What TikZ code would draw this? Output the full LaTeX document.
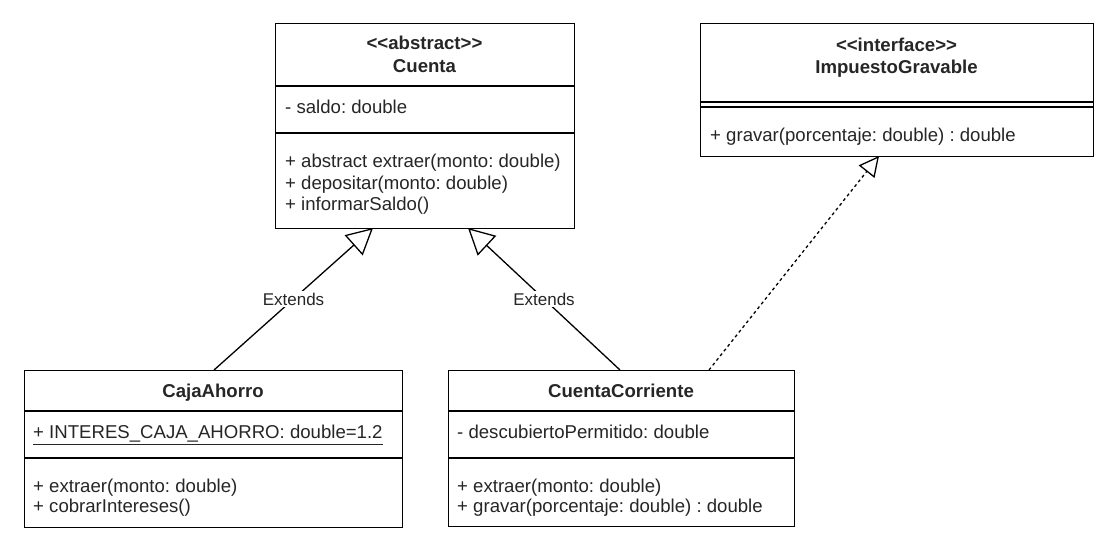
\documentclass[tikz,border=0pt]{standalone}
\usepackage{fontspec}
\setmainfont{Liberation Sans}
\usetikzlibrary{arrows.meta}
\frenchspacing
\newcommand{\gopen}{<\kern0pt<}
\newcommand{\gclose}{>\kern0pt>}
\definecolor{txt}{HTML}{262626}
\begin{document}
\begin{tikzpicture}[x=1pt,y=-1pt,
  box/.style={draw=black, line width=1.3pt, fill=white, anchor=north west, inner sep=0pt},
  sep/.style={draw=black, line width=1.3pt},
  mtxt/.style={anchor=base west, inner sep=0pt, text=txt, font=\fontsize{18.6}{22}\selectfont\frenchspacing},
  ttxt/.style={anchor=base, inner sep=0pt, text=txt, font=\fontsize{18.6}{22}\selectfont\bfseries},
  lbl/.style={fill=white, inner sep=1.5pt, text=txt, font=\fontsize{17}{20}\selectfont},
  gen/.style={draw=black, line width=1.3pt, -{Triangle[open, length=26pt, width=27pt, fill=white]}},
  real/.style={draw=black, line width=1.3pt, dash pattern=on 3pt off 3pt, -{Triangle[open, length=20pt, width=20pt, fill=white]}}
]
\useasboundingbox (0,0) rectangle (1113,536);

% ---- Cuenta ----
\node[box, minimum width=299pt, minimum height=205pt] (cuenta) at (275,23) {};
\draw[sep] (cuenta.west |- 0,86) -- (cuenta.east |- 0,86);
\draw[sep] (cuenta.west |- 0,133) -- (cuenta.east |- 0,133);
\node[ttxt] (cuentaS) at (424.5,49.5) {\gopen abstract\gclose};
\node[ttxt] (cuentaT) at (424.5,72.5) {Cuenta};
\node[mtxt] (cuentaA) at (285,113) {- saldo: double};
\node[mtxt] (cuentaM1) at (285,167.5) {+ abstract extraer(monto: double)};
\node[mtxt] (cuentaM2) at (285,189) {+ depositar(monto: double)};
\node[mtxt] (cuentaM3) at (285,210.5) {+ informarSaldo()};

% ---- ImpuestoGravable ----
\node[box, minimum width=393pt, minimum height=133pt] (imp) at (700,23) {};
\draw[sep] (imp.west |- 0,102) -- (imp.east |- 0,102);
\draw[sep] (imp.west |- 0,107) -- (imp.east |- 0,107);
\node[ttxt] (impS) at (896.5,51.5) {\gopen interface\gclose};
\node[ttxt] (impT) at (896.5,73.5) {ImpuestoGravable};
\node[mtxt] (impM1) at (710,141.5) {+ gravar(porcentaje: double) : double};

% ---- CajaAhorro ----
\node[box, minimum width=378pt, minimum height=157pt] (caja) at (24,370) {};
\draw[sep] (caja.west |- 0,411) -- (caja.east |- 0,411);
\draw[sep] (caja.west |- 0,458) -- (caja.east |- 0,458);
\node[ttxt] (cajaT) at (213,397.5) {CajaAhorro};
\node[mtxt] (cajaA) at (33,438.7) {\underline{+ INTERES\_CAJA\_AHORRO: double=1.2}};
\node[mtxt] (cajaM1) at (33,492.5) {+ extraer(monto: double)};
\node[mtxt] (cajaM2) at (33,512.7) {+ cobrarIntereses()};

% ---- CuentaCorriente ----
\node[box, minimum width=346pt, minimum height=156pt] (cc) at (448,370) {};
\draw[sep] (cc.west |- 0,411) -- (cc.east |- 0,411);
\draw[sep] (cc.west |- 0,458) -- (cc.east |- 0,458);
\node[ttxt] (ccT) at (621,397.5) {CuentaCorriente};
\node[mtxt] (ccA) at (457,438.7) {- descubiertoPermitido: double};
\node[mtxt] (ccM1) at (457,492.5) {+ extraer(monto: double)};
\node[mtxt] (ccM2) at (457,512.7) {+ gravar(porcentaje: double) : double};

% ---- connector end points on the boxes ----
\coordinate (cajaTop) at (214,370);
\coordinate (ccTopL) at (620,370);
\coordinate (ccTopR) at (709,370);
\coordinate (cuentaBotL) at (373,228);
\coordinate (cuentaBotR) at (468,228);
\coordinate (impBot) at (879,156);

\draw[gen] (cajaTop) -- node[lbl] (ext1) {Extends} (cuentaBotL);
\draw[gen] (ccTopL) -- node[lbl] (ext2) {Extends} (cuentaBotR);
\draw[real] (ccTopR) -- (impBot);
\end{tikzpicture}
\end{document}
